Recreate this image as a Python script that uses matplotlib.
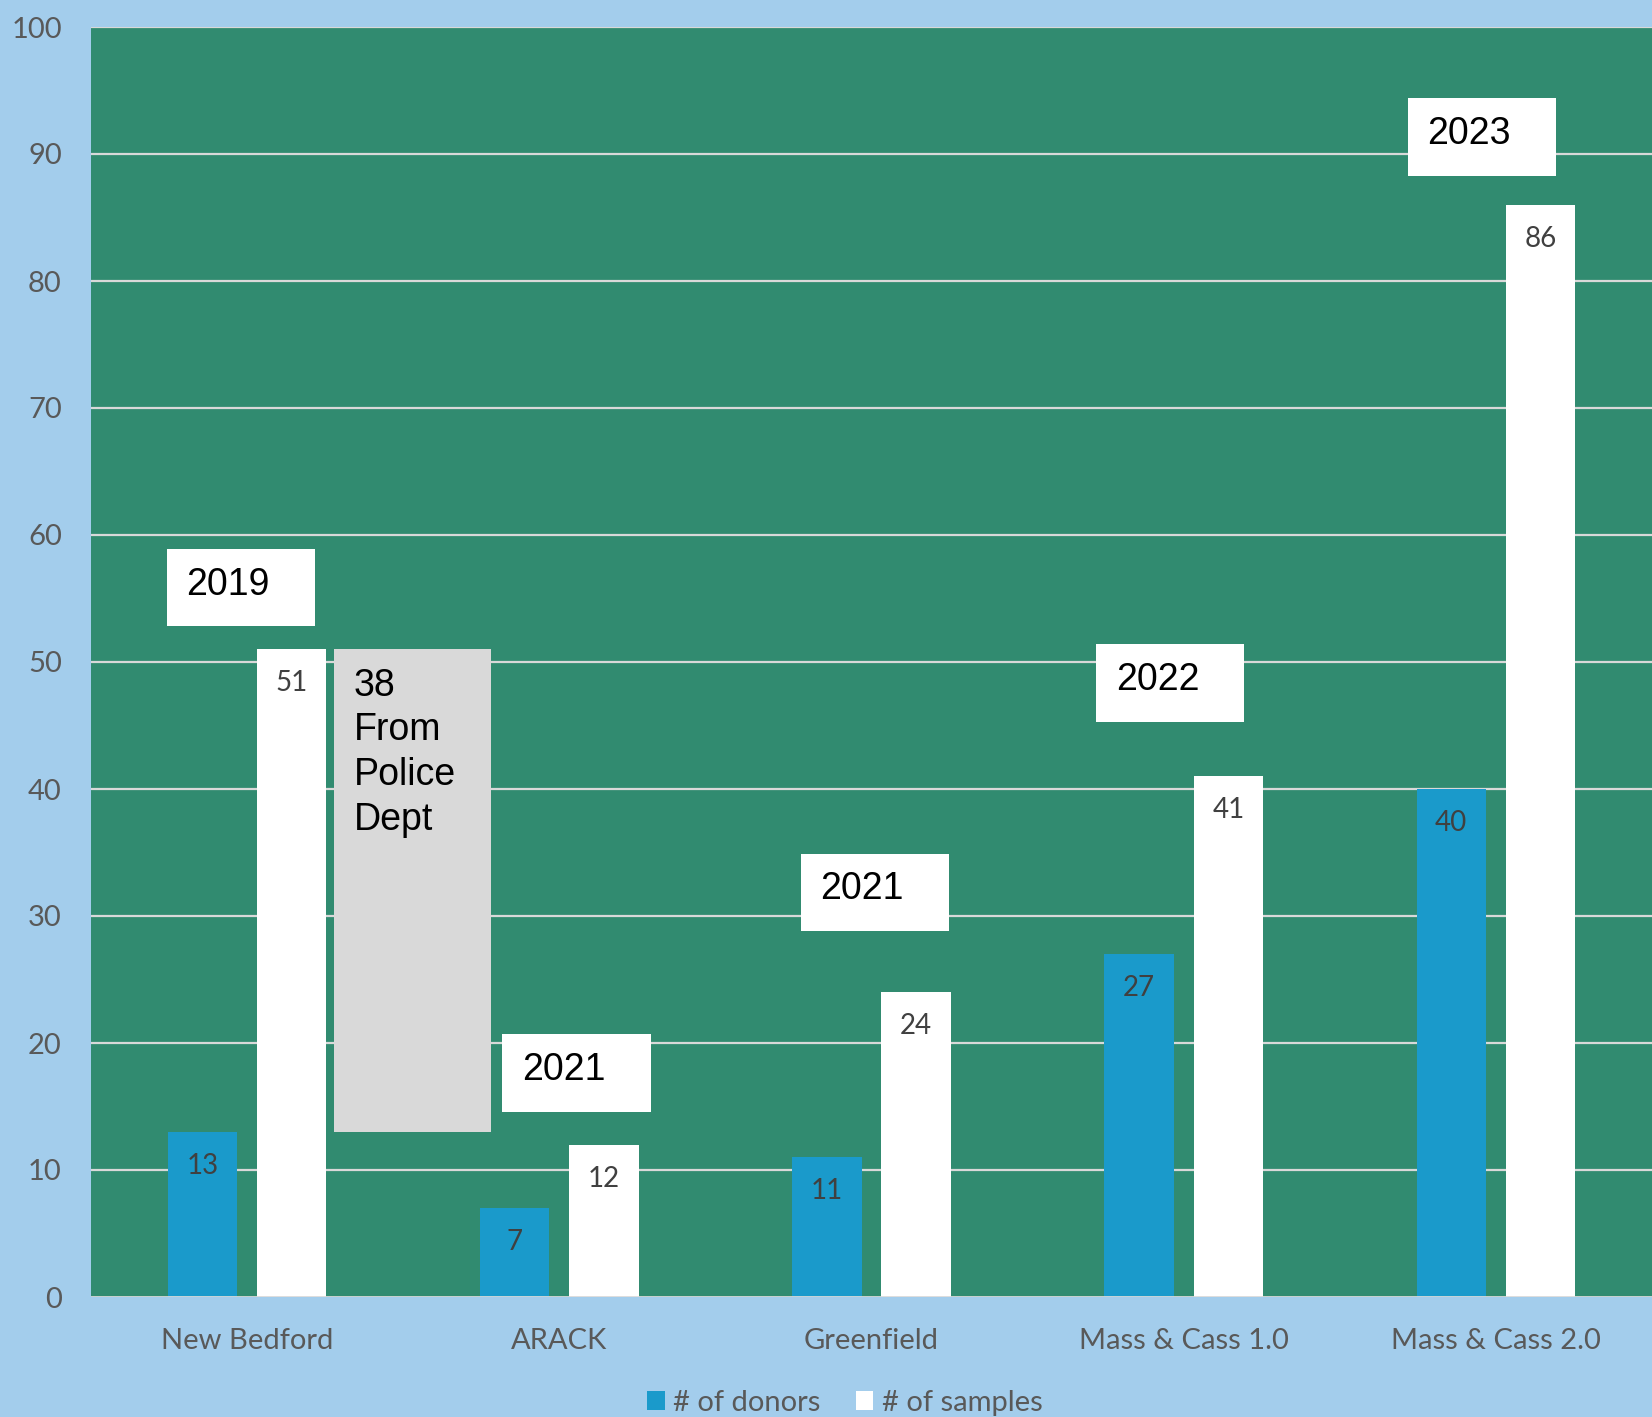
import matplotlib.pyplot as plt
from matplotlib.patches import Patch, Rectangle
import numpy as np

# Data
sites = ['New Bedford', 'ARACK', 'Greenfield', 'Mass & Cass 1.0', 'Mass & Cass 2.0']
donors = [13, 7, 11, 27, 40]
samples = [51, 12, 24, 41, 86]
police_samples = 38  # part of New Bedford samples
years = ['2019', '2021', '2021', '2022', '2023']

# Annotation box placement (data coords): left x, bottom y
year_box_x = [-0.258, 0.818, 1.773, 2.718, 3.717]
year_box_y = [52.8, 14.6, 28.8, 45.3, 88.3]
year_box_w = 0.476
year_box_h = 6.1

bg = '#A3CDEC'
plot_bg = '#318B70'
donor_col = '#1A9ACB'
grid_col = '#D9D9D9'
text_col = '#595959'
label_col = '#404040'

plt.rcParams['font.family'] = ['Lato', 'DejaVu Sans']

fig = plt.figure(figsize=(16.52, 14.17), dpi=100, facecolor=bg)
ax = fig.add_axes([91 / 1652, 1 - 1297 / 1417, 1 - 91 / 1652, (1297 - 27) / 1417])
ax.set_facecolor(plot_bg)

x = np.arange(len(sites))
w = 0.222
off = 0.143

for y in range(10, 101, 10):
    ax.axhline(y, color=grid_col, lw=1.6, zorder=1)
ax.axhline(0, color=grid_col, lw=2.0, zorder=4)

b1 = ax.bar(x - off, donors, w, color=donor_col, zorder=2)
b2 = ax.bar(x + off, samples, w, color='white', zorder=2)

for bars in (b1, b2):
    for rect in bars:
        h = rect.get_height()
        ax.annotate(f'{h:g}', (rect.get_x() + rect.get_width() / 2, h),
                    xytext=(0, -24.5), textcoords='offset points',
                    ha='center', va='center', fontsize=20, color=label_col, zorder=5)

# gray "police" box stacked on New Bedford samples
ax.add_patch(Rectangle((0.278, samples[0] - police_samples), 0.503, police_samples,
                       facecolor='#D9D9D9', edgecolor='none', zorder=3))
ax.text(0.342, samples[0] - 1.45, f'{police_samples}\nFrom\nPolice\nDept',
        ha='left', va='top', fontsize=27, family='Liberation Sans',
        color='black', linespacing=1.31, zorder=5)

for yr, bx, by in zip(years, year_box_x, year_box_y):
    ax.add_patch(Rectangle((bx, by), year_box_w, year_box_h, facecolor='white',
                           edgecolor='none', zorder=3))
    ax.text(bx + 0.064, by + 2.5, yr, ha='left', va='baseline', fontsize=27,
            family='Liberation Sans', color='black', zorder=5)

ax.set_xlim(-0.5, 4.5)
ax.set_ylim(0, 100)
ax.set_yticks(range(0, 101, 10))
ax.set_xticks(x)
ax.set_xticklabels(sites)
ax.tick_params(axis='y', length=0, pad=21, labelsize=21, labelcolor=text_col)
ax.tick_params(axis='x', length=0, pad=22, labelsize=21, labelcolor=text_col)
for s in ax.spines.values():
    s.set_visible(False)

handles = [Patch(facecolor=donor_col, label='# of donors'),
           Patch(facecolor='white', label='# of samples')]
leg = fig.legend(handles=handles, loc='center', bbox_to_anchor=(0.5115, 0.010),
                 ncol=2, frameon=False, fontsize=21, handlelength=0.6,
                 handleheight=0.6, handletextpad=0.3, columnspacing=1.2)
for t in leg.get_texts():
    t.set_color(text_col)

fig.savefig('out.png', dpi=100, facecolor=bg)
